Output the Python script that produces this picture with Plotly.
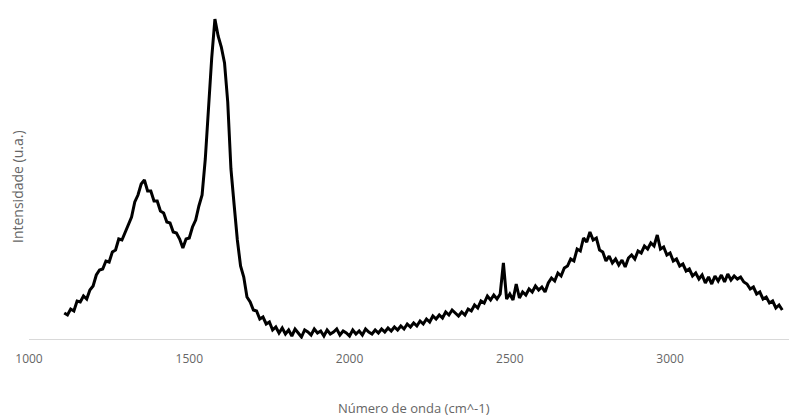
import plotly.graph_objects as go

# Raman spectrum: wavenumber grid (cm^-1) and measured intensity (a.u.)
wn_start = 1110
wn_step = 10
intensity = [
    26, 24, 30, 28, 38, 37, 43, 40, 49, 53,
    64, 69, 70, 78, 77, 87, 89, 100, 99, 107,
    116, 122, 137, 144, 155, 159, 148, 148, 138, 138,
    128, 126, 117, 116, 107, 106, 100, 91, 100, 101,
    112, 119, 133, 144, 180, 232, 281, 320, 303, 292,
    276, 237, 170, 134, 99, 73, 62, 42, 37, 29,
    28, 20, 22, 15, 17, 9, 12, 6,
    11, 5, 9, 3, 10, 6, 2, 9, 7, 4,
    10, 6, 8, 3, 9, 5, 7, 10, 4, 8,
    6, 3, 9, 5, 8, 4, 10, 7, 5, 9,
    6, 10, 7, 11, 8, 12, 9,
    13, 10, 15, 12, 16, 13, 18, 15, 20, 17,
    23, 20, 24, 21, 27, 24, 29, 26, 23, 27,
    24, 30, 28, 34, 31, 38, 36, 43, 39, 44,
    40, 45, 76, 40, 45, 39, 55, 41, 47, 44,
    50, 47, 53, 49, 52, 47, 56, 61, 58, 66,
    63, 71, 73, 80, 78, 90, 88, 101, 97, 107,
    99, 101, 89, 87, 78, 83, 76, 80, 74, 79,
    72, 81, 84, 80, 88, 86, 93, 90, 96, 93,
    104, 90, 92, 84, 86, 78, 80, 73, 75, 68,
    70, 63, 66, 60, 64, 56, 62, 55, 63, 58,
    64, 57, 65, 59, 63, 60, 62, 57, 55, 50,
    52, 45, 47, 40, 42, 36, 38, 31, 34, 29,
]
wavenumber = [wn_start + wn_step * i for i in range(len(intensity))]

x_ticks = [1000, 1500, 2000, 2500, 3000]
x_title = "Número de onda (cm^-1)"
y_title = "Intensidade (u.a.)"

text_color = "#666666"
font_family = "Open Sans, Lato, sans-serif"

fig = go.Figure()
fig.add_trace(go.Scatter(
    x=wavenumber, y=intensity, mode="lines",
    line=dict(color="black", width=3),
    hoverinfo="skip", showlegend=False,
))

fig.update_layout(
    width=789, height=417,
    margin=dict(l=29, r=0, t=5, b=78),
    paper_bgcolor="white", plot_bgcolor="white",
    font=dict(family=font_family, color=text_color, size=12),
    xaxis=dict(
        range=[1000, 3371], tickvals=x_ticks,
        showgrid=False, zeroline=False,
        showline=True, linecolor="#d9d9d9", linewidth=1,
        ticks="outside", ticklen=9, tickcolor="rgba(0,0,0,0)",
        tickfont=dict(size=12, color=text_color),
    ),
    yaxis=dict(
        range=[0, 334], showticklabels=False, showgrid=False,
        zeroline=False, showline=False, ticks="",
    ),
    annotations=[
        dict(text=x_title, xref="paper", yref="paper", x=0.5, y=0,
             yshift=-69, xshift=5, showarrow=False,
             font=dict(size=13, color=text_color), yanchor="middle"),
        dict(text=y_title, xref="paper", yref="paper", x=0, y=0.5,
             xshift=-12, yshift=-15, textangle=-90, showarrow=False,
             font=dict(size=14, color=text_color), xanchor="center",
             yanchor="middle"),
    ],
)

fig.write_html("out.html")
